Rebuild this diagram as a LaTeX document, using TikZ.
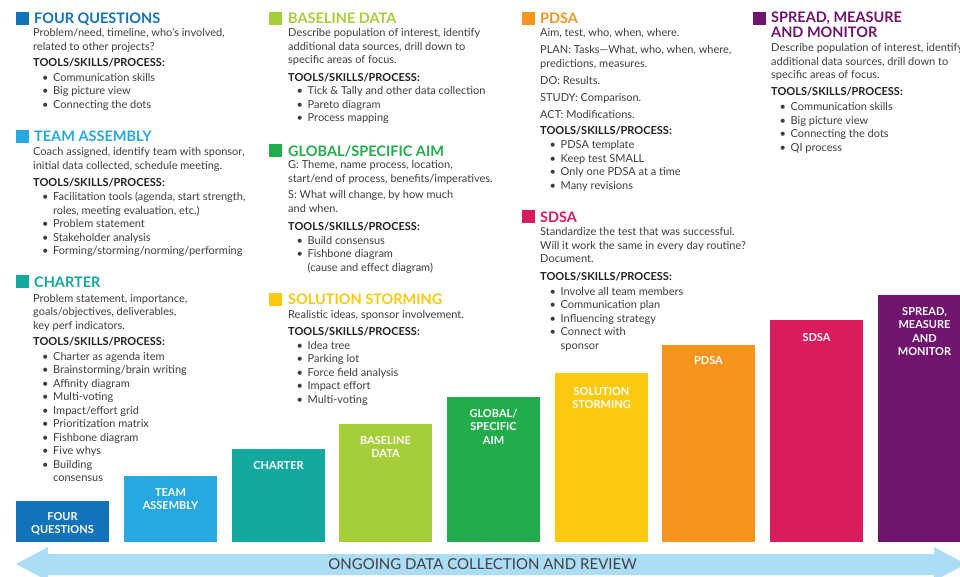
\documentclass[tikz,border=0pt]{standalone}
\usepackage{fontspec}
\setmainfont{Lato}
\definecolor{cFQ}{HTML}{1272BA}
\definecolor{cTA}{HTML}{27A8E0}
\definecolor{cCH}{HTML}{13A89E}
\definecolor{cBD}{HTML}{A6CE39}
\definecolor{cGS}{HTML}{22AC4B}
\definecolor{cSS}{HTML}{FDC90E}
\definecolor{cPD}{HTML}{F7941D}
\definecolor{cSD}{HTML}{DA1C5C}
\definecolor{cSM}{HTML}{71146E}
\definecolor{cArrow}{HTML}{ABDDF7}
\definecolor{bodygray}{HTML}{3E3E3E}
\definecolor{toolsblack}{HTML}{231F20}
\newcommand{\bu}{\makebox[11pt][l]{•}}
\newcommand{\cn}{\hspace*{11pt}}
\newcommand{\tl}[1]{\begin{tabular}[t]{@{}l@{}}#1\end{tabular}}
\newcommand{\tc}[1]{\begin{tabular}[t]{@{}c@{}}#1\end{tabular}}
\tikzset{
  body/.style={anchor=base west, inner sep=0pt, text=bodygray,
    font=\fontsize{11}{13.5}\selectfont},
  blist/.style={body},
  tools/.style={anchor=base west, inner sep=0pt, text=toolsblack,
    font=\fontsize{11}{13.5}\selectfont\bfseries},
  head/.style={anchor=base west, inner sep=0pt,
    font=\fontsize{14.5}{15}\selectfont\bfseries},
  barbox/.style={anchor=south west, inner sep=0pt, minimum width=93pt},
  barlabel/.style={anchor=base, inner sep=0pt, text=white,
    font=\fontsize{11}{13.5}\selectfont\bfseries},
  arrowtext/.style={anchor=base, inner sep=0pt, text=toolsblack!85,
    font=\fontsize{15}{16}\selectfont}
}
\begin{document}
\begin{tikzpicture}[x=1pt,y=-1pt]
\useasboundingbox (0,0) rectangle (960,577);
\clip (0,0) rectangle (960,577);

% ---------- column 1 ----------
\fill[cFQ] (16,12) rectangle (29,25);
\node[head,text=cFQ] (hFQ) at (34,24) {FOUR QUESTIONS};
\node[body] (dFQ) at (33,37) {\tl{Problem/need, timeline, who’s involved,\\related to other projects?}};
\node[tools] (tFQ) at (33,67) {TOOLS/SKILLS/PROCESS:};
\node[blist] (kFQ) at (42,81.5) {\tl{\bu Communication skills\\\bu Big picture view\\\bu Connecting the dots}};

\fill[cTA] (16,130) rectangle (29,143);
\node[head,text=cTA] (hTA) at (34,141.5) {TEAM ASSEMBLY};
\node[body] (dTA) at (33,156) {\tl{Coach assigned, identify team with sponsor,\\initial data collected, schedule meeting.}};
\node[tools] (tTA) at (33,186.5) {TOOLS/SKILLS/PROCESS:};
\node[blist] (kTA) at (42,200.5) {\tl{\bu Facilitation tools (agenda, start strength,\\\cn roles, meeting evaluation, etc.)\\\bu Problem statement\\\bu Stakeholder analysis\\\bu Forming/storming/norming/performing}};

\fill[cCH] (16,275) rectangle (29,288);
\node[head,text=cCH] (hCH) at (34,287.5) {CHARTER};
\node[body] (dCH) at (33,302) {\tl{Problem statement, importance,\\goals/objectives, deliverables,\\key perf indicators.}};
\node[tools] (tCH) at (33,345.5) {TOOLS/SKILLS/PROCESS:};
\node[blist] (kCH) at (42,360) {\tl{\bu Charter as agenda item\\\bu Brainstorming/brain writing\\\bu Affinity diagram\\\bu Multi-voting\\\bu Impact/effort grid\\\bu Prioritization matrix\\\bu Fishbone diagram\\\bu Five whys\\\bu Building\\\cn consensus}};

% ---------- column 2 ----------
\fill[cBD] (269,12) rectangle (282,25);
\node[head,text=cBD] (hBD) at (288,24) {BASELINE DATA};
\node[body] (dBD) at (288,37) {\tl{Describe population of interest, identify\\additional data sources, drill down to\\specific areas of focus.}};
\node[tools] (tBD) at (288,81.5) {TOOLS/SKILLS/PROCESS:};
\node[blist] (kBD) at (296.5,95) {\tl{\bu Tick \& Tally and other data collection\\\bu Pareto diagram\\\bu Process mapping}};

\fill[cGS] (269,144) rectangle (282,157);
\node[head,text=cGS] (hGS) at (288,156.5) {GLOBAL/SPECIFIC AIM};
\node[body] (dGS) at (288,169) {\tl{G: Theme, name process, location,\\start/end of process, benefits/imperatives.}};
\node[body] (sGS) at (288,199) {\tl{S: What will change, by how much\\and when.}};
\node[tools] (tGS) at (288,230.5) {TOOLS/SKILLS/PROCESS:};
\node[blist] (kGS) at (296.5,244) {\tl{\bu Build consensus\\\bu Fishbone diagram\\\cn (cause and effect diagram)}};

\fill[cSS] (269,293) rectangle (282,306);
\node[head,text=cSS] (hSS) at (288,304.5) {SOLUTION STORMING};
\node[body] (dSS) at (288,318) {Realistic ideas, sponsor involvement.};
\node[tools] (tSS) at (288,335.5) {TOOLS/SKILLS/PROCESS:};
\node[blist] (kSS) at (296.5,349) {\tl{\bu Idea tree\\\bu Parking lot\\\bu Force field analysis\\\bu Impact effort\\\bu Multi-voting}};

% ---------- column 3 ----------
\fill[cPD] (522,12) rectangle (535,25);
\node[head,text=cPD] (hPD) at (540,24) {PDSA};
\node[body] (dPD) at (540,37) {\tl{Aim, test, who, when, where.\\[3.5pt]PLAN: Tasks—What, who, when, where,\\predictions, measures.\\[3.5pt]DO: Results.\\[3.5pt]STUDY: Comparison.\\[3.5pt]ACT: Modifications.}};
\node[tools] (tPD) at (540,134.5) {TOOLS/SKILLS/PROCESS:};
\node[blist] (kPD) at (549.5,149) {\tl{\bu PDSA template\\\bu Keep test SMALL\\\bu Only one PDSA at a time\\\bu Many revisions}};

\fill[cSD] (522,210) rectangle (535,223);
\node[head,text=cSD] (hSD) at (540,222.5) {SDSA};
\node[body] (dSD) at (540,236) {\tl{Standardize the test that was successful.\\Will it work the same in every day routine?\\Document.}};
\node[tools] (tSD) at (540,280.5) {TOOLS/SKILLS/PROCESS:};
\node[blist] (kSD) at (549.5,295) {\tl{\bu Involve all team members\\\bu Communication plan\\\bu Influencing strategy\\\bu Connect with\\\cn sponsor}};

% ---------- column 4 ----------
\fill[cSM] (753,12) rectangle (766,25);
\node[head,text=cSM] (hSM) at (771,22.5) {\begin{tabular}[t]{@{}l@{}}SPREAD, MEASURE\\AND MONITOR\end{tabular}};
\node[body] (dSM) at (771,52) {\tl{Describe population of interest, identify\\additional data sources, drill down to\\specific areas of focus.}};
\node[tools] (tSM) at (771,95.5) {TOOLS/SKILLS/PROCESS:};
\node[blist] (kSM) at (779.5,111) {\tl{\bu Communication skills\\\bu Big picture view\\\bu Connecting the dots\\\bu QI process}};

% ---------- bars ----------
\node[barbox,fill=cFQ,minimum height=41pt] (bFQ) at (16,542) {};
\node[barbox,fill=cTA,minimum height=66pt] (bTA) at (124,542) {};
\node[barbox,fill=cCH,minimum height=93pt] (bCH) at (232,542) {};
\node[barbox,fill=cBD,minimum height=118pt] (bBD) at (339,542) {};
\node[barbox,fill=cGS,minimum height=145pt] (bGS) at (447,542) {};
\node[barbox,fill=cSS,minimum height=169pt] (bSS) at (555,542) {};
\node[barbox,fill=cPD,minimum height=197pt] (bPD) at (662,542) {};
\node[barbox,fill=cSD,minimum height=222pt] (bSD) at (770,542) {};
\node[barbox,fill=cSM,minimum height=247pt] (bSM) at (878,542) {};

\node[barlabel] (lFQ) at (62.5,520) {\tc{FOUR\\QUESTIONS}};
\node[barlabel] (lTA) at (170.5,496) {\tc{TEAM\\ASSEMBLY}};
\node[barlabel] (lCH) at (278.5,469) {CHARTER};
\node[barlabel] (lBD) at (385.5,444) {\tc{BASELINE\\DATA}};
\node[barlabel] (lGS) at (493.5,417) {\tc{GLOBAL/\\SPECIFIC\\AIM}};
\node[barlabel] (lSS) at (601.5,395) {\tc{SOLUTION\\STORMING}};
\node[barlabel] (lPD) at (708.5,364) {PDSA};
\node[barlabel] (lSD) at (816.5,341) {SDSA};
\node[barlabel] (lSM) at (924.5,315) {\tc{SPREAD,\\MEASURE\\AND\\MONITOR}};

% ---------- arrow ----------
\fill[cArrow] (16,564) -- (48,547) -- (48,554) -- (934,554) -- (934,547) -- (966,564)
  -- (934,581) -- (934,575) -- (48,575) -- (48,581) -- cycle;
\node[arrowtext] (ongoing) at (482.5,569.5) {ONGOING DATA COLLECTION AND REVIEW};
\end{tikzpicture}
\end{document}
